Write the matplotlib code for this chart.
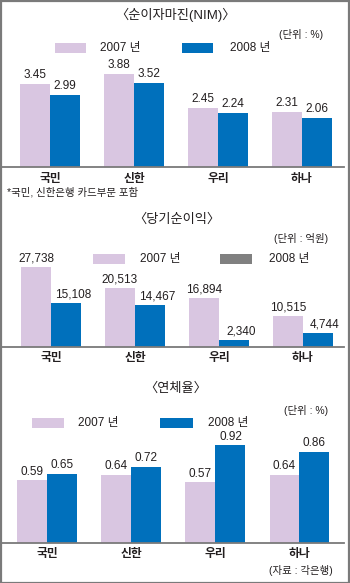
import matplotlib
matplotlib.use("Agg")
import matplotlib.pyplot as plt
from matplotlib.patches import Rectangle
import numpy as np

plt.rcParams['font.family'] = ['Liberation Sans', 'Noto Sans CJK KR', 'DejaVu Sans']

banks = ['국민', '신한', '우리', '하나']
years = ['2007 년', '2008 년']

nim_2007 = [3.45, 3.88, 2.45, 2.31]
nim_2008 = [2.99, 3.52, 2.24, 2.06]

profit_2007 = [27738, 20513, 16894, 10515]
profit_2008 = [15108, 14467, 2340, 4744]

delinq_2007 = [0.59, 0.64, 0.57, 0.64]
delinq_2008 = [0.65, 0.72, 0.92, 0.86]

LAVENDER = '#d9c6e1'
BLUE = '#0070bc'
GRAY = '#808080'
TXT = '#231f20'

W, H = 350, 583
fig = plt.figure(figsize=(W / 100, H / 100), dpi=100)


def fx(x):
    return x / W


def fy(y):
    return 1 - y / H


def ftext(x, y, s, **kw):
    kw.setdefault('color', TXT)
    kw.setdefault('va', 'center')
    fig.text(fx(x), fy(y), s, **kw)


def swatch(x0, x1, y, color):
    fig.add_artist(Rectangle((fx(x0), fy(y + 5)), fx(x1 - x0), (10 / H),
                             transform=fig.transFigure, color=color, lw=0))


def panel(base_y, c0, px_per_unit, v07, v08, fmt, col08, dx08=0):
    top = base_y - 115
    ax = fig.add_axes([fx(2), fy(base_y), fx(342), (base_y - top) / H])
    x = np.arange(len(banks))
    w = 30 / 84
    ax.bar(x - w / 2, v07, w, color=LAVENDER, lw=0)
    ax.bar(x + w / 2, v08, w, color=col08, lw=0)
    ax.set_xlim((2 - c0) / 84, (344 - c0) / 84)
    ax.set_ylim(0, (base_y - top) / px_per_unit)
    for i in range(len(banks)):
        ax.annotate(fmt(v07[i]), (x[i] - w / 2, v07[i]), xytext=(0, 2),
                    textcoords='offset points', ha='center', va='bottom',
                    fontsize=8.5, color=TXT)
        ax.annotate(fmt(v08[i]), (x[i] + w / 2, v08[i]), xytext=(dx08, 2),
                    textcoords='offset points', ha='center', va='bottom',
                    fontsize=8.5, color=TXT)
    for s in ['top', 'right', 'left']:
        ax.spines[s].set_visible(False)
    ax.spines['bottom'].set_color('#7a7a7a')
    ax.spines['bottom'].set_linewidth(1.3)
    ax.set_yticks([])
    ax.set_xticks(x)
    ax.set_xticklabels(banks, fontsize=8.5, fontweight='bold', color=TXT)
    ax.tick_params(axis='x', length=0, pad=4)
    ax.patch.set_alpha(0)
    return ax


# panel 1: NIM
ftext(175, 15, '〈순이자마진(NIM)〉', ha='center', fontsize=9.5)
ftext(323, 35, '(단위 : %)', ha='right', fontsize=7.5)
swatch(55, 86, 48, LAVENDER)
ftext(100, 48, years[0], fontsize=8.5)
swatch(182, 213, 48, BLUE)
ftext(230, 48, years[1], fontsize=8.5)
panel(167, 50, 24.0, nim_2007, nim_2008, lambda v: f'{v:.2f}', BLUE)
ftext(7, 192, '*국민, 신한은행 카드부문 포함', fontsize=7.5)

# panel 2: net profit
ftext(177, 220, '〈당기순이익〉', ha='center', fontsize=9.5)
ftext(328, 238, '(단위 : 억원)', ha='right', fontsize=7.5)
swatch(93, 125, 259, LAVENDER)
ftext(140, 259, years[0], fontsize=8.5)
swatch(220, 252, 259, GRAY)
ftext(269, 259, years[1], fontsize=8.5)
panel(346.5, 51, 0.002862, profit_2007, profit_2008, lambda v: f'{v:,}', BLUE, dx08=5)

# panel 3: delinquency
ftext(176, 389, '〈연체율〉', ha='center', fontsize=9.5)
ftext(328, 410, '(단위 : %)', ha='right', fontsize=7.5)
swatch(32, 64, 423, LAVENDER)
ftext(78, 423, years[0], fontsize=8.5)
swatch(160, 193, 423, BLUE)
ftext(208, 423, years[1], fontsize=8.5)
panel(542.7, 47.5, 105.8, delinq_2007, delinq_2008, lambda v: f'{v:.2f}', BLUE)
ftext(333, 571, '(자료 : 각은행)', ha='right', fontsize=7.5)

# outer frame
fig.add_artist(Rectangle((0.5 / W, 0.5 / H), 1 - 1.5 / W, 1 - 1.5 / H,
                         transform=fig.transFigure, fill=False,
                         edgecolor='#7a7a7a', lw=1.6))

fig.savefig('out.png', dpi=100)
